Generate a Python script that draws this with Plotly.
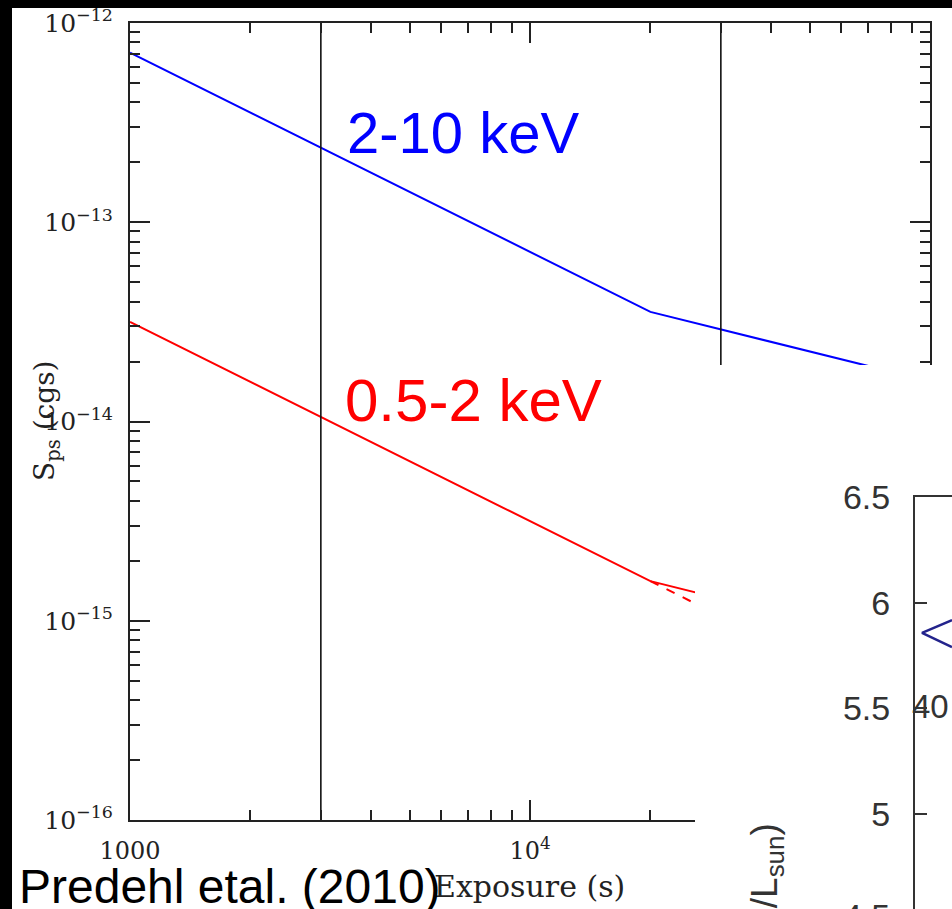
import plotly.graph_objects as go

W, H = 952, 909

# ---------------- data (main chart) ----------------
exposure_blue = [1000, 20000, 100000]
flux_blue = [7.1e-13, 3.55e-14, 1.59e-14]          # 2-10 keV
exposure_red = [1000, 20000, 100000]
flux_red = [3.16e-14, 1.58e-15, 7.07e-16]          # 0.5-2 keV (solid)
exposure_red_dash = [20000, 100000]
flux_red_dash = [1.58e-15, 3.16e-16]               # 0.5-2 keV (dashed)
vline_exposures = [3000, 30000]
y_span = [1e-16, 1e-12]

x_tickvals = [1000, 10000]
x_ticktext = ["1000", "10<sup>4</sup>"]
y_tickvals = [1e-16, 1e-15, 1e-14, 1e-13, 1e-12]
y_ticktext = ["10<sup>\u221216</sup>", "10<sup>\u221215</sup>", "10<sup>\u221214</sup>",
              "10<sup>\u221213</sup>", "10<sup>\u221212</sup>"]
x_minor = [m * 10 ** e for e in (3, 4) for m in range(2, 10)]
y_minor = [m * 10.0 ** e for e in (-16, -15, -14, -13) for m in range(2, 10)]

# ---------------- data (inset fragment of second chart) ----------------
inset_x = [1.0, 0.19, 1.0]
inset_y = [5.918, 5.857, 5.79]
inset_yticks = [5.0, 5.5, 6.0, 6.5]
inset_yticktext = ["5", "5.5", "6", "6.5"]


def px(x):
    return x / W


def py(y):
    return 1 - y / H


AX = "#222222"
fig = go.Figure()

fig.add_trace(go.Scatter(x=exposure_blue, y=flux_blue, mode="lines",
                         line=dict(color="#0000ff", width=2), showlegend=False))
fig.add_trace(go.Scatter(x=exposure_red, y=flux_red, mode="lines",
                         line=dict(color="#ff0000", width=2), showlegend=False))
fig.add_trace(go.Scatter(x=exposure_red_dash, y=flux_red_dash, mode="lines",
                         line=dict(color="#ff0000", width=2, dash="dash"), showlegend=False))
for xv in vline_exposures:
    fig.add_trace(go.Scatter(x=[xv, xv], y=y_span, mode="lines",
                             line=dict(color="#111111", width=1.6), showlegend=False))

# overlay background subplot (covers part of main chart)
fig.add_trace(go.Scatter(x=[None], y=[None], xaxis="x2", yaxis="y2",
                         mode="lines", showlegend=False))
# second chart fragment
fig.add_trace(go.Scatter(x=inset_x, y=inset_y, xaxis="x3", yaxis="y3", mode="lines",
                         line=dict(color="#23238c", width=2.5), showlegend=False))

fig.update_layout(
    width=W, height=H,
    margin=dict(l=0, r=0, t=0, b=0, autoexpand=False),
    paper_bgcolor="white", plot_bgcolor="white",
    xaxis=dict(
        type="log", range=[3, 5], domain=[px(130), px(930)],
        showgrid=False, zeroline=False,
        showline=True, linecolor=AX, linewidth=2, mirror="ticks",
        ticks="inside", ticklen=20, tickwidth=2, tickcolor=AX,
        tickvals=x_tickvals, ticktext=x_ticktext,
        tickfont=dict(family="DejaVu Serif", size=24, color="#222"),
        ticklabelstandoff=8,
        minor=dict(tickvals=x_minor, ticks="inside", ticklen=10, tickwidth=2, tickcolor=AX),
        anchor="y",
    ),
    yaxis=dict(
        type="log", range=[-16, -12], domain=[py(820), py(23)],
        showgrid=False, zeroline=False,
        showline=True, linecolor=AX, linewidth=2, mirror="ticks",
        ticks="inside", ticklen=20, tickwidth=2, tickcolor=AX,
        tickvals=y_tickvals, ticktext=y_ticktext,
        tickfont=dict(family="DejaVu Serif", size=25, color="#222"),
        ticklabelstandoff=10,
        minor=dict(tickvals=y_minor, ticks="inside", ticklen=10, tickwidth=2, tickcolor=AX),
        anchor="x",
    ),
    xaxis2=dict(domain=[px(695), 1], range=[0, 1], visible=False, anchor="y2"),
    yaxis2=dict(domain=[0, py(365)], range=[0, 1], visible=False, anchor="x2"),
    xaxis3=dict(domain=[px(915), 1], range=[0, 1], anchor="y3", side="top",
                showline=True, linecolor="#333", linewidth=2,
                showticklabels=False, ticks="", showgrid=False, zeroline=False),
    yaxis3=dict(domain=[0, py(497)], range=[6.5 - 412 / 211.4, 6.5], anchor="x3",
                showline=True, linecolor="#333", linewidth=2,
                tickvals=inset_yticks, ticktext=inset_yticktext,
                ticks="inside", ticklen=12, tickwidth=1.5, tickcolor="#333",
                tickfont=dict(family="Liberation Sans", size=34, color="#333"),
                ticklabelstandoff=16,
                showgrid=False, zeroline=False),
)

annotations = [
    dict(text="2-10 keV", x=px(345), y=py(133), xanchor="left", yanchor="middle",
         font=dict(family="Liberation Sans", size=58, color="#0000ff")),
    dict(text="0.5-2 keV", x=px(343), y=py(400), xanchor="left", yanchor="middle",
         font=dict(family="Liberation Sans", size=60, color="#ff0000")),
    dict(text="Exposure (s)", x=px(529), y=py(886), xanchor="center", yanchor="middle",
         font=dict(family="DejaVu Serif", size=30, color="#222")),
    dict(text="Predehl etal. (2010)", x=px(17), y=py(886), xanchor="left", yanchor="middle",
         font=dict(family="Liberation Sans", size=48, color="black")),
    dict(text="S<sub>ps</sub> (cgs)", x=px(46), y=py(421), xanchor="center", yanchor="middle",
         textangle=-90, font=dict(family="DejaVu Serif", size=28, color="#222")),
    dict(text="4.5", x=px(892), y=py(916), xanchor="right", yanchor="middle",
         font=dict(family="Liberation Sans", size=34, color="#333")),
    dict(text="40", x=px(910), y=py(706), xanchor="left", yanchor="middle",
         font=dict(family="Liberation Sans", size=33, color="#333")),
    dict(text="log(L/L<sub>sun</sub>)", x=px(766), y=py(822), xanchor="center", yanchor="top",
         textangle=-90, font=dict(family="Liberation Sans", size=37, color="#333")),
]
for a in annotations:
    a.update(xref="paper", yref="paper", showarrow=False)
fig.update_layout(annotations=annotations)

# black border strips of the original image
fig.update_layout(shapes=[
    dict(type="rect", xref="paper", yref="paper", x0=0, x1=px(12), y0=0, y1=1,
         fillcolor="black", line=dict(width=0), layer="below"),
    dict(type="rect", xref="paper", yref="paper", x0=0, x1=1, y0=py(8), y1=1,
         fillcolor="black", line=dict(width=0), layer="below"),
])

fig.write_html("out.html")
